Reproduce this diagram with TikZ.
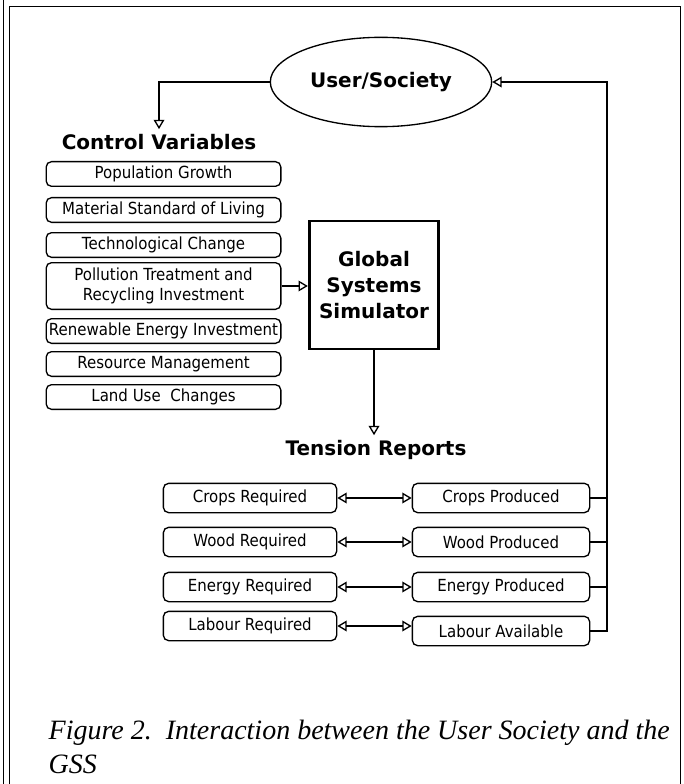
\documentclass[tikz,border=0pt]{standalone}
\usepackage{fontspec}
\setmainfont{Liberation Serif}
\newfontfamily\boxfont[FakeStretch=0.9]{DejaVu Sans}
\newfontfamily\headfont{DejaVu Sans}
\usetikzlibrary{positioning,arrows.meta,shapes.geometric}

\begin{document}
\begin{tikzpicture}[x=0.75pt,y=-0.75pt,>={Triangle[open,length=7pt,width=8pt]},line width=1pt]
        \tikzstyle{ctrl}=[rectangle,draw,rounded corners=4pt,minimum width=176pt,minimum height=18.5pt,inner sep=0pt,align=center,font=\boxfont\fontsize{12.5}{15}\selectfont]
        \tikzstyle{tens}=[rectangle,draw,rounded corners=4pt,minimum height=22pt,inner sep=0pt,font=\boxfont\fontsize{12.5}{15}\selectfont]
        \tikzstyle{head}=[font=\headfont\bfseries\fontsize{15}{19}\selectfont]
          \useasboundingbox (0,0) rectangle (683,784);
          % page frame
          \draw [line width=0.7pt] (3,0) -- (3,784);
          \draw [line width=0.7pt] (9,784) -- (9,6) -- (680,6) -- (680,784);
          % user and control variables
          \node (user) at (381,82) [ellipse,draw,minimum width=166pt,minimum height=67pt,inner sep=0pt,head] {User/Society};
          \node (ctrlhead) at (159,142) [head] {Control Variables};
          \node (popgrowth) at (163.5,174) [ctrl] {Population Growth};
          \node (living) at (163.5,210) [ctrl] {Material Standard of Living};
          \node (techchange) at (163.5,245) [ctrl] {Technological Change};
          \node (pollution) at (163.5,286) [ctrl,minimum height=35pt] {Pollution Treatment and\\Recycling Investment};
          \node (renewable) at (163.5,331) [ctrl] {Renewable Energy Investment};
          \node (resource) at (163.5,364) [ctrl] {Resource Management};
          \node (landuse) at (163.5,397) [ctrl] {Land Use\ \ Changes};
          % simulator
          \node (gss) at (374,285) [rectangle,draw,line width=2.2pt,minimum width=97pt,minimum height=96pt,align=center,font=\headfont\bfseries\fontsize{15}{19.5}\selectfont] {Global\\Systems\\Simulator};
          % tension reports
          \node (tenshead) at (376,450) [head] {Tension Reports};
          \node (cropreq) at (250,498) [tens,minimum width=130pt] {Crops Required};
          \node (cropprod) at (501,498) [tens,minimum width=133pt] {Crops Produced};
          \node (woodreq) at (250,542) [tens,minimum width=130pt] {Wood Required};
          \node (woodprod) at (501,542) [tens,minimum width=133pt] {Wood Produced};
          \node (energyreq) at (250,587) [tens,minimum width=130pt] {Energy Required};
          \node (energyprod) at (501,587) [tens,minimum width=133pt] {Energy Produced};
          \node (labreq) at (250,626) [tens,minimum width=130pt] {Labour Required};
          \node (labavail) at (501,631) [tens,minimum width=133pt] {Labour Available};
          \coordinate (rtop) at (607,82);
          \coordinate (rbot) at (607,631);
          % connectors
          \draw [->] (user.west) -| (ctrlhead.north);
          \draw [->] (pollution.east) -- (pollution.east -| gss.west);
          \draw [->] (gss.south) -- (gss.south |- tenshead.north);
          \draw [<->] (cropreq.east) -- (cropprod.west);
          \draw [<->] (woodreq.east) -- (woodprod.west);
          \draw [<->] (energyreq.east) -- (energyprod.west);
          \draw [<->] (labreq.east) -- (labreq.east -| labavail.west);
          \draw [->] (labavail.east) -- (rbot) -- (rtop) -- (user.east);
          \draw (cropprod.east) -- (cropprod.east -| rtop);
          \draw (woodprod.east) -- (woodprod.east -| rtop);
          \draw (energyprod.east) -- (energyprod.east -| rtop);
          % caption
          \node (caption) at (48,739) [anchor=base west,inner sep=0pt,font=\itshape\fontsize{21}{25}\selectfont] {Figure 2.\ \ Interaction between the User Society and the};
          \node (captiongss) at (48,773) [anchor=base west,inner sep=0pt,font=\itshape\fontsize{21}{25}\selectfont] {GSS};
      \end{tikzpicture}
\end{document}
